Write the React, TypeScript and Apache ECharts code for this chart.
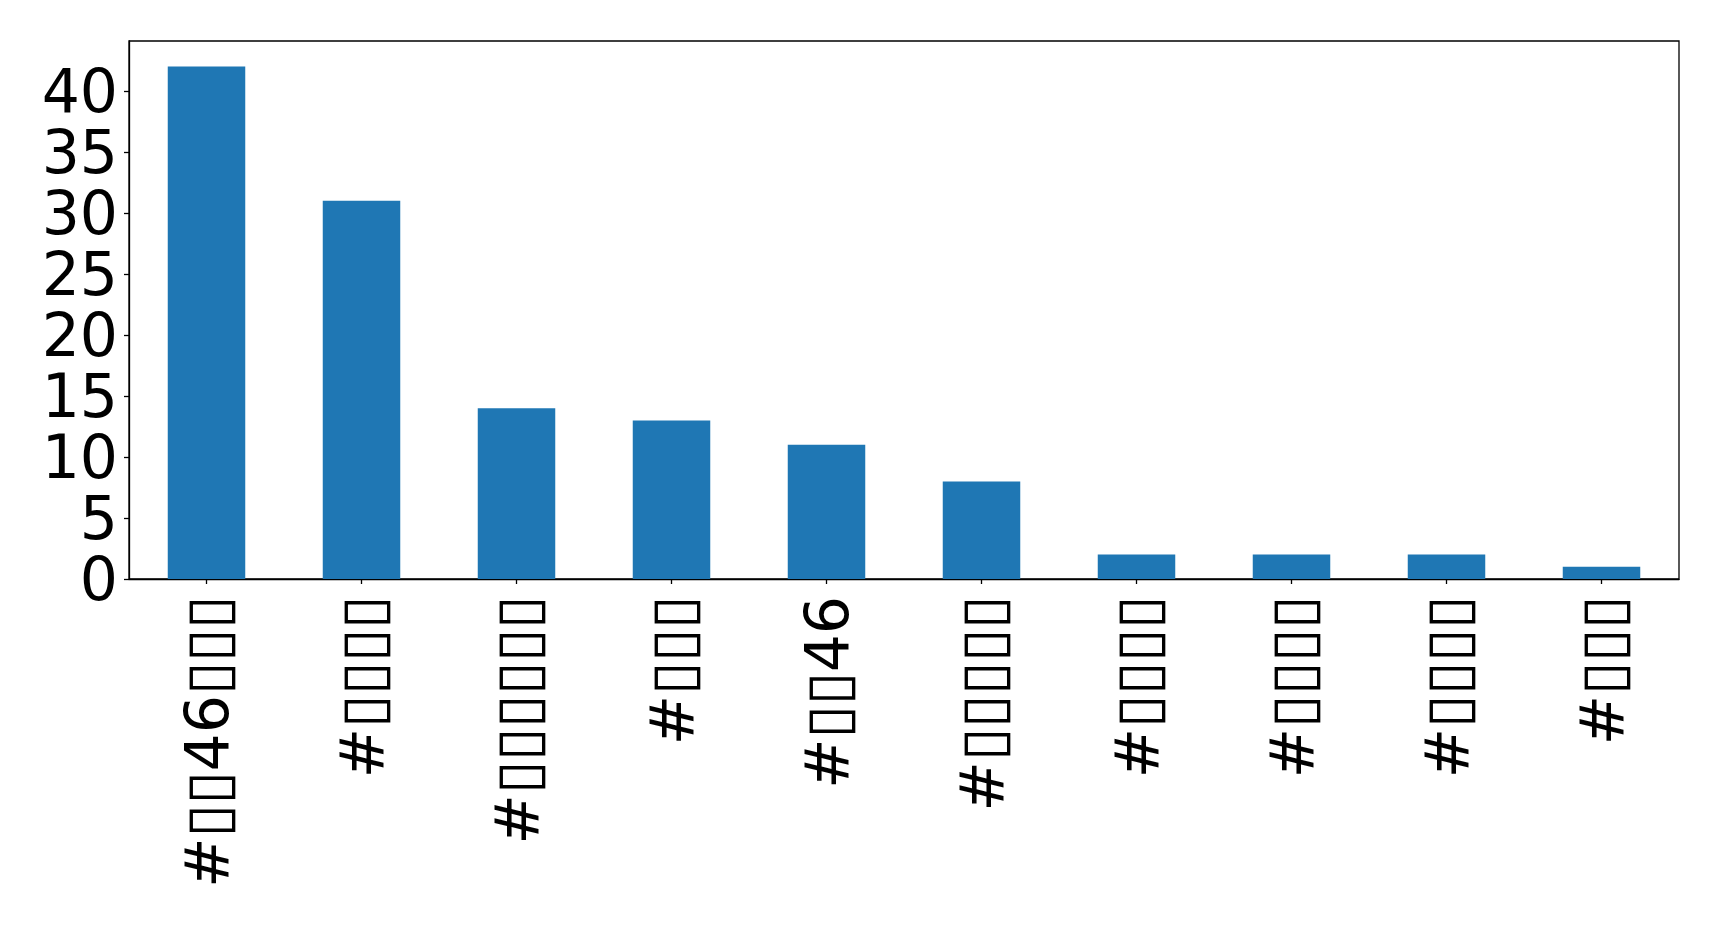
import React, { useEffect, useRef } from "react";
import * as echarts from "echarts";

const B = "\u25AF";
const categories = [
  `#${B}${B}46${B}${B}${B}`,
  `#${B}${B}${B}${B}`,
  `#${B}${B}${B}${B}${B}${B}`,
  `#${B}${B}${B}`,
  `#${B}${B}46`,
  `#${B}${B}${B}${B}${B}`,
  `#${B}${B}${B}${B}`,
  `#${B}${B}${B}${B}`,
  `#${B}${B}${B}${B}`,
  `#${B}${B}${B}`,
];
const counts = [42, 31, 14, 13, 11, 8, 2, 2, 2, 1];
const yTicks = [0, 5, 10, 15, 20, 25, 30, 35, 40];
const yMax = 44.1;

export default function App() {
  const ref = useRef<HTMLDivElement>(null);
  useEffect(() => {
    if (!ref.current) return;
    const chart = echarts.init(ref.current, undefined, { renderer: "svg" });
    const font = "DejaVu Sans";
    chart.setOption({
      animation: false,
      backgroundColor: "#ffffff",
      grid: {
        left: 129,
        top: 41,
        right: 40,
        bottom: 369,
        show: true,
        borderColor: "#000000",
        borderWidth: 1.3,
        backgroundColor: "transparent",
        containLabel: false,
      },
      xAxis: {
        type: "category",
        data: categories,
        boundaryGap: true,
        axisLine: { show: true, lineStyle: { color: "#000000", width: 1.3 } },
        axisTick: {
          show: true,
          alignWithLabel: true,
          length: 5,
          lineStyle: { color: "#000000", width: 1.3 },
        },
        axisLabel: {
          rotate: 90,
          margin: 17,
          interval: 0,
          color: "#000000",
          fontFamily: font,
          fontSize: 60,
        },
        splitLine: { show: false },
      },
      yAxis: {
        type: "value",
        min: 0,
        max: yMax,
        interval: 5,
        axisLine: { show: true, lineStyle: { color: "#000000", width: 1.3 } },
        axisTick: {
          show: true,
          length: 5,
          lineStyle: { color: "#000000", width: 1.3 },
          customValues: yTicks,
        },
        axisLabel: {
          margin: 11,
          color: "#000000",
          fontFamily: font,
          fontSize: 60,
          lineHeight: 52,
          customValues: yTicks,
        },
        splitLine: { show: false },
      },
      series: [
        {
          type: "bar",
          data: counts,
          barWidth: "50%",
          itemStyle: { color: "#1f77b4" },
        },
      ],
    });
    return () => chart.dispose();
  }, []);
  return (
    <div
      ref={ref}
      style={{ position: "fixed", left: 0, top: 0, width: 1719, height: 948 }}
    />
  );
}
